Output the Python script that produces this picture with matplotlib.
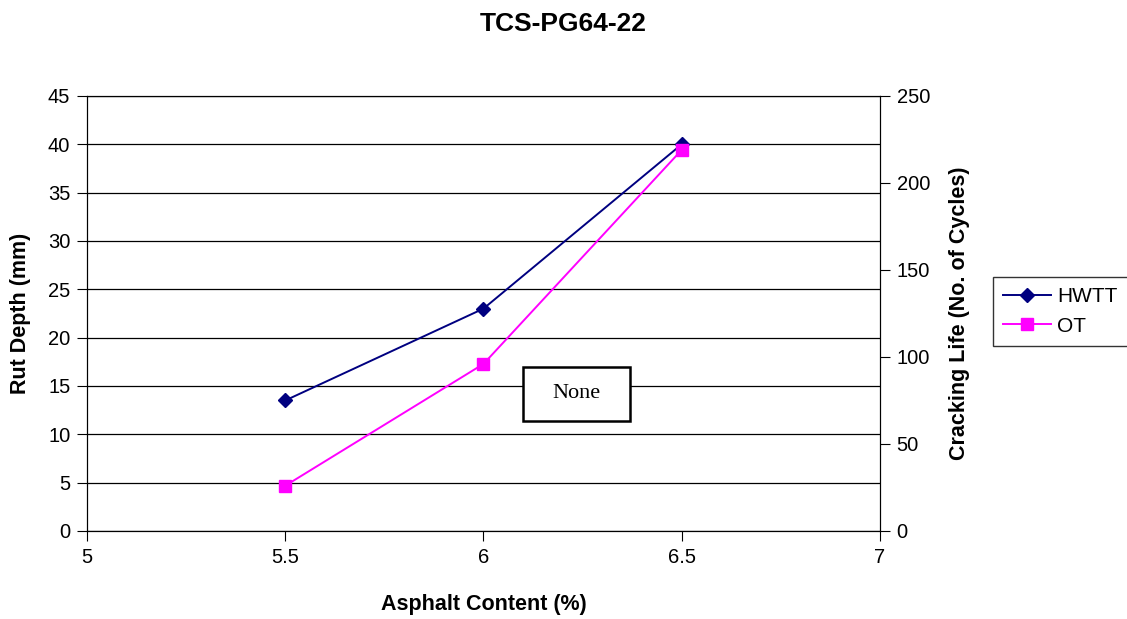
import matplotlib
matplotlib.use("Agg")
from matplotlib import pyplot as plt
from matplotlib.patches import Rectangle

plt.rcParams['font.family'] = ['Liberation Sans', 'DejaVu Sans']

asphalt = [5.5, 6.0, 6.5]
hwtt = [13.5, 23.0, 40.0]
ot = [26, 96, 219]

fig = plt.figure(figsize=(11.27, 6.19), dpi=100)
ax = fig.add_axes([0.0772, 0.1422, 0.7036, 0.7028])
ax2 = ax.twinx()

l1, = ax.plot(asphalt, hwtt, color='#000080', marker='D', markersize=7, linewidth=1.4, label='HWTT')
l2, = ax2.plot(asphalt, ot, color='#FF00FF', marker='s', markersize=8, linewidth=1.4, label='OT')

ax.set_xlim(5, 7)
ax.set_ylim(0, 45)
ax2.set_ylim(0, 250)
ax.set_xticks([5, 5.5, 6, 6.5, 7])
ax.set_xticklabels(['5', '5.5', '6', '6.5', '7'])
ax.set_yticks(range(0, 46, 5))
ax2.set_yticks(range(0, 251, 50))
ax.yaxis.grid(True, color='black', linewidth=0.9)
ax.set_axisbelow(True)

for a in (ax, ax2):
    a.tick_params(labelsize=14.5, length=7, direction='out', color='black', pad=5)
    for s in a.spines.values():
        s.set_color('black')

ax.set_xlabel("Asphalt Content (%)", fontsize=15.5, fontweight='bold', labelpad=20)
ax.set_ylabel("Rut Depth (mm)", fontsize=15.5, fontweight='bold', labelpad=12)
ax2.set_ylabel("Cracking Life (No. of Cycles)", fontsize=15.5, fontweight='bold', labelpad=14)
fig.suptitle("TCS-PG64-22", fontsize=19, fontweight='bold', y=0.98)

# text box
ax2.add_patch(Rectangle((0.550, 0.253), 0.135, 0.124, transform=ax.transAxes,
                        facecolor='white', edgecolor='black', linewidth=1.8, zorder=5))
ax2.text(0.617, 0.315, "None", transform=ax.transAxes, ha='center', va='center',
         fontsize=16, family=['Liberation Serif', 'DejaVu Serif'], zorder=6)

leg = fig.legend(handles=[l1, l2], loc='center left', bbox_to_anchor=(0.881, 0.497),
                 fontsize=15, frameon=True, fancybox=False, edgecolor='black',
                 handlelength=2.3, handletextpad=0.3, borderpad=0.5, labelspacing=0.5,
                 borderaxespad=0)
leg.get_frame().set_linewidth(1.0)

fig.savefig("out.png", dpi=100)
